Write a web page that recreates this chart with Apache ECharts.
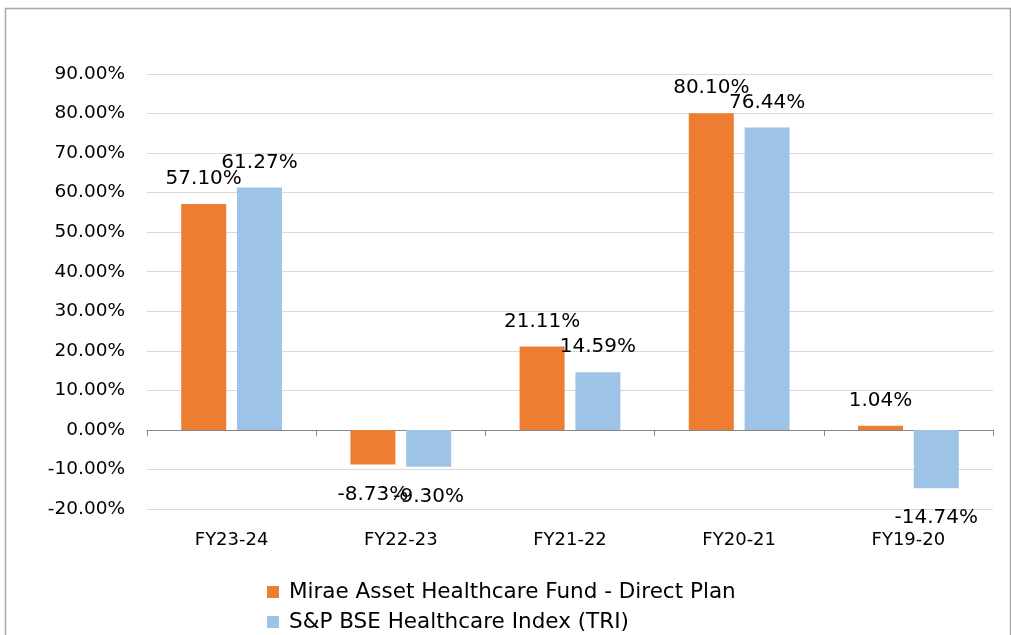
<!DOCTYPE html>
<html>
<head>
<meta charset="utf-8">
<script src="https://cdn.jsdelivr.net/npm/echarts@6/dist/echarts.min.js"></script>
<style>html,body{margin:0;padding:0;background:#fff}#c{width:1011px;height:635px}</style>
</head>
<body>
<div id="c"></div>
<script>
const categories = ['FY23-24', 'FY22-23', 'FY21-22', 'FY20-21', 'FY19-20'];
const fundName = 'Mirae Asset Healthcare Fund - Direct Plan';
const indexName = 'S&P BSE Healthcare Index (TRI)';
const fundValues = [57.10, -8.73, 21.11, 80.10, 1.04];
const indexValues = [61.27, -9.30, 14.59, 76.44, -14.74];

const FONT = 'DejaVu Sans';
function mk(vals) {
  return vals.map(v => v < 0 ? { value: v, label: { position: 'bottom', distance: 20 } } : v);
}
const chart = echarts.init(document.getElementById('c'), null, { renderer: 'canvas' });
const labelStyle = {
  show: true, position: 'top', distance: 15, color: '#000',
  fontFamily: FONT, fontSize: 20,
  formatter: p => p.value.toFixed(2) + '%'
};
const legendBase = {
  orient: 'vertical', left: 267, padding: 0,
  itemWidth: 12, itemHeight: 12,
  icon: 'rect',
  textStyle: { fontFamily: FONT, fontSize: 21.5, color: '#000', padding: [0, 0, 0, 5] }
};
chart.setOption({
  animation: false,
  backgroundColor: '#fff',
  graphic: [{
    type: 'rect', left: 3, top: 6,
    shape: { width: 1005, height: 660 },
    style: { fill: 'none', stroke: '#a6a6a6', lineWidth: 1.5 },
    silent: true
  }],
  grid: { left: 147, right: 18, top: 74, bottom: 126, containLabel: false },
  legend: [
    Object.assign({}, legendBase, { top: 581, data: [fundName] }),
    Object.assign({}, legendBase, { top: 611, data: [indexName] })
  ],
  xAxis: [{
    type: 'category', data: categories,
    axisLine: { onZero: true, lineStyle: { color: '#868686', width: 1 } },
    axisTick: { show: true, inside: false, length: 6, lineStyle: { color: '#868686' } },
    axisLabel: { show: false }
  }, {
    type: 'category', data: categories, position: 'bottom',
    axisLine: { show: false, onZero: false }, axisTick: { show: false },
    axisLabel: { show: true, margin: 22, fontFamily: FONT, fontSize: 18, color: '#000' }
  }],
  yAxis: {
    type: 'value', min: -20, max: 90, interval: 10,
    axisLine: { show: false }, axisTick: { show: false },
    axisLabel: { fontFamily: FONT, fontSize: 18.5, color: '#000', margin: 22,
      formatter: v => v.toFixed(2) + '%' },
    splitLine: { lineStyle: { color: '#d9d9d9', width: 1 } }
  },
  series: [{
    name: fundName, type: 'bar', data: mk(fundValues),
    barWidth: 45, barGap: '24%',
    itemStyle: { color: '#ED7D31', borderWidth: 0 }, label: labelStyle
  }, {
    name: indexName, type: 'bar', data: mk(indexValues),
    barWidth: 45, barGap: '24%',
    itemStyle: { color: '#9DC3E6', borderWidth: 0 }, label: labelStyle
  }]
});
</script>
</body>
</html>
